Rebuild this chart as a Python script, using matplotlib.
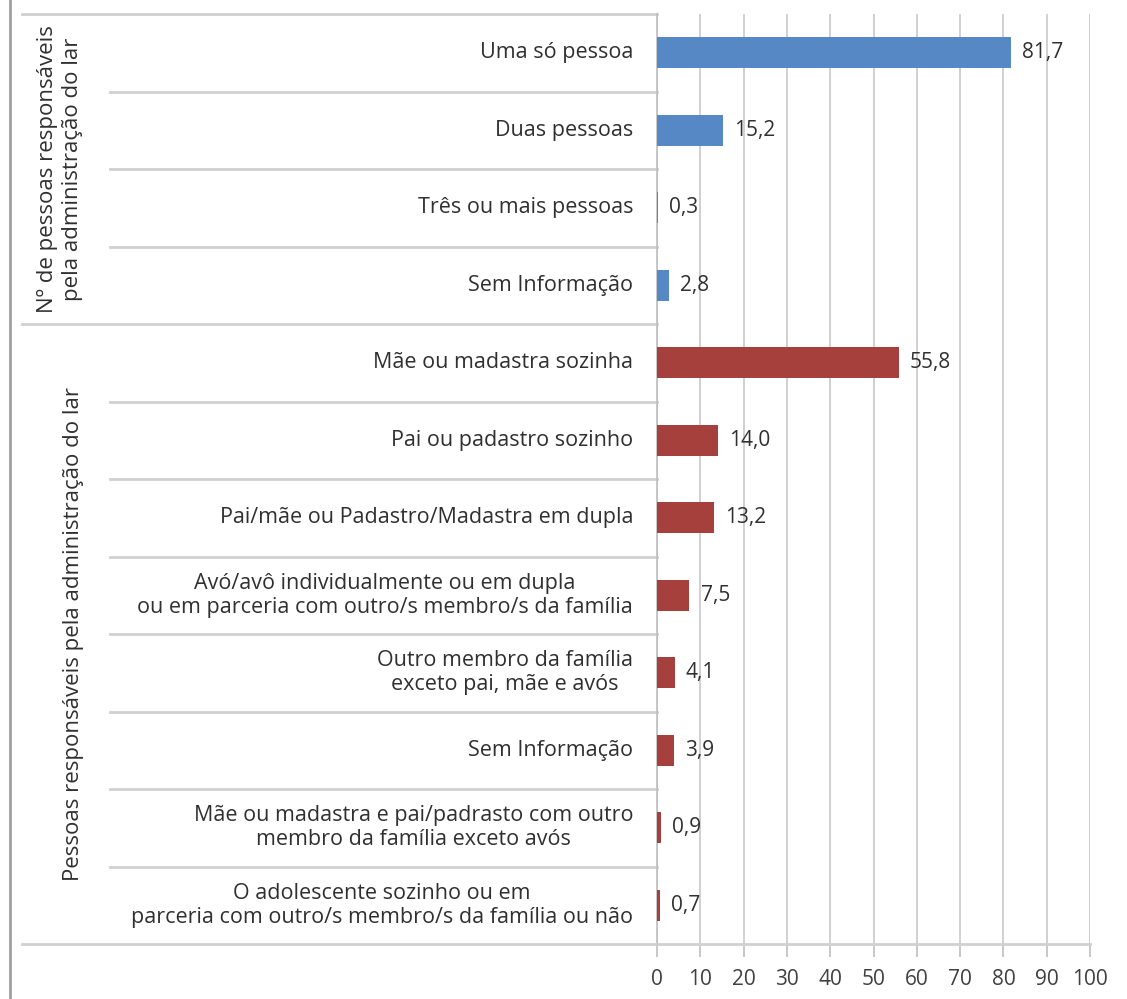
import matplotlib
matplotlib.use("Agg")
import matplotlib.pyplot as plt
import matplotlib.transforms as mtransforms
from matplotlib.lines import Line2D

plt.rcParams['font.family'] = ['Open Sans', 'DejaVu Sans']

categories = [
    "Uma só pessoa",
    "Duas pessoas",
    "Três ou mais pessoas",
    "Sem Informação",
    "Mãe ou madastra sozinha",
    "Pai ou padastro sozinho",
    "Pai/mãe ou Padastro/Madastra em dupla",
    "Avó/avô individualmente ou em dupla\nou em parceria com outro/s membro/s da família",
    "Outro membro da família\nexceto pai, mãe e avós",
    "Sem Informação",
    "Mãe ou madastra e pai/padrasto com outro\nmembro da família exceto avós",
    "O adolescente sozinho ou em\nparceria com outro/s membro/s da família ou não",
]
values = [81.7, 15.2, 0.3, 2.8, 55.8, 14.0, 13.2, 7.5, 4.1, 3.9, 0.9, 0.7]
group_sizes = [4, 8]
group_labels = [
    "Nº de pessoas responsáveis\npela administração do lar",
    "Pessoas responsáveis pela administração do lar",
]
group_colors = ["#5588C4", "#A6403D"]
xticks = list(range(0, 101, 10))

FS = 15.5
TXT = "#303030"

W, H = 1127, 999
fig = plt.figure(figsize=(W / 100, H / 100), dpi=100)
x0, x1, ytop, ybot = 657, 1090, 14, 944
ax = fig.add_axes([x0 / W, (H - ybot) / H, (x1 - x0) / W, (ybot - ytop) / H])

colors = []
for c, n in zip(group_colors, group_sizes):
    colors += [c] * n

ypos = list(range(len(categories)))
ax.barh(ypos, values, height=0.4, color=colors, zorder=3)
ax.set_xlim(0, 100)
ax.set_ylim(len(categories) - 0.5, -0.5)
ax.set_xticks(xticks)
ax.set_xticklabels([str(t) for t in xticks], fontsize=15, color="#404040")
ax.tick_params(axis="x", length=9, width=1.2, color="#BFBFBF", pad=9)
ax.set_yticks([])
ax.grid(axis="x", color="#C8C8C8", linewidth=1.2, zorder=0)
for s in ["top", "right"]:
    ax.spines[s].set_visible(False)
ax.spines["left"].set_color("#BFBFBF")
ax.spines["left"].set_linewidth(1.2)
ax.spines["bottom"].set_color("#D0D0D0")
ax.spines["bottom"].set_linewidth(2)

# value labels
for y, v in zip(ypos, values):
    ax.annotate(f"{v:.1f}".replace(".", ","), (v, y), xytext=(8, 0),
                textcoords="offset points", va="center", ha="left",
                fontsize=15, color=TXT)

# category labels
label_x = (633 - x0) / (x1 - x0)
for y, lab in zip(ypos, categories):
    ax.text(label_x, y, lab, transform=ax.get_yaxis_transform(),
            ha="right", va="center", multialignment="center",
            fontsize=FS, color=TXT, linespacing=1.2)

# separator lines in the label area
trans = mtransforms.blended_transform_factory(ax.transAxes, ax.transData)
inner_x = (110 - x0) / (x1 - x0)
outer_x = (22 - x0) / (x1 - x0)
bounds = [-0.5]
acc = -0.5
for n in group_sizes:
    acc += n
    bounds.append(acc)
for b in range(len(categories) + 1):
    yb = b - 0.5
    start = outer_x if yb in bounds else inner_x
    ax.plot([start, 0], [yb, yb], transform=trans, color="#D0D0D0",
            linewidth=2, clip_on=False, zorder=1)

# group labels
start = -0.5
for lab, n, gx in zip(group_labels, group_sizes, [60, 73]):
    mid = start + n / 2
    ax.text((gx - x0) / (x1 - x0), mid, lab, transform=trans, rotation=90,
            ha="center", va="center", multialignment="center",
            fontsize=16, color=TXT, linespacing=1.2)
    start += n

# left border of the picture
fig.add_artist(Line2D([10 / W, 10 / W], [0, 1], color="#A0A0A0", linewidth=2))

fig.savefig("out.png", dpi=100, facecolor="white")
